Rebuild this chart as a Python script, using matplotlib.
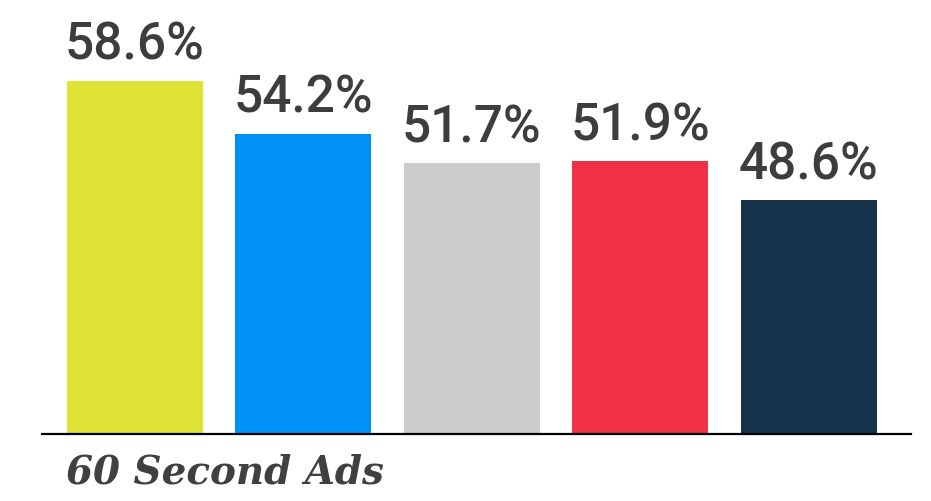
import matplotlib
matplotlib.use('Agg')
import matplotlib.pyplot as plt

# --- DATA ---
values = [58.6, 54.2, 51.7, 51.9, 48.6]
labels = ['58.6%', '54.2%', '51.7%', '51.9%', '48.6%']
colors = ['#dfe336', '#0091f7', '#cbcbcb', '#f03044', '#15324b']
caption = '60 Second Ads'

DPI = 100
fig = plt.figure(figsize=(9.31, 5.02), dpi=DPI)
ax = fig.add_axes([42 / 931, 1 - 434.5 / 502, (911 - 42) / 931, 434.5 / 502])

x = range(len(values))
ax.bar(x, values, width=0.807, color=colors, bottom=0, zorder=2)
ax.set_xlim(-0.55, 4.607)
ax.set_ylim(29.1, 65.46)

for xi, v, lab in zip(x, values, labels):
    ax.annotate(lab, (xi, v), xytext=(0, 22 * 72 / DPI), textcoords='offset points',
                ha='center', va='baseline', fontsize=37, family='Roboto',
                fontweight='medium', color='#3d3d3d')

for s in ['top', 'right', 'left']:
    ax.spines[s].set_visible(False)
ax.spines['bottom'].set_linewidth(1.6)
ax.spines['bottom'].set_color('black')
ax.spines['bottom'].set_zorder(3)
ax.set_xticks([])
ax.set_yticks([])

fig.text(66 / 931, 1 - 484 / 502, caption, fontsize=28, family='DejaVu Serif',
         fontstyle='italic', fontweight='bold', color='#404040', va='baseline', ha='left')

fig.savefig('out.png', dpi=DPI)
